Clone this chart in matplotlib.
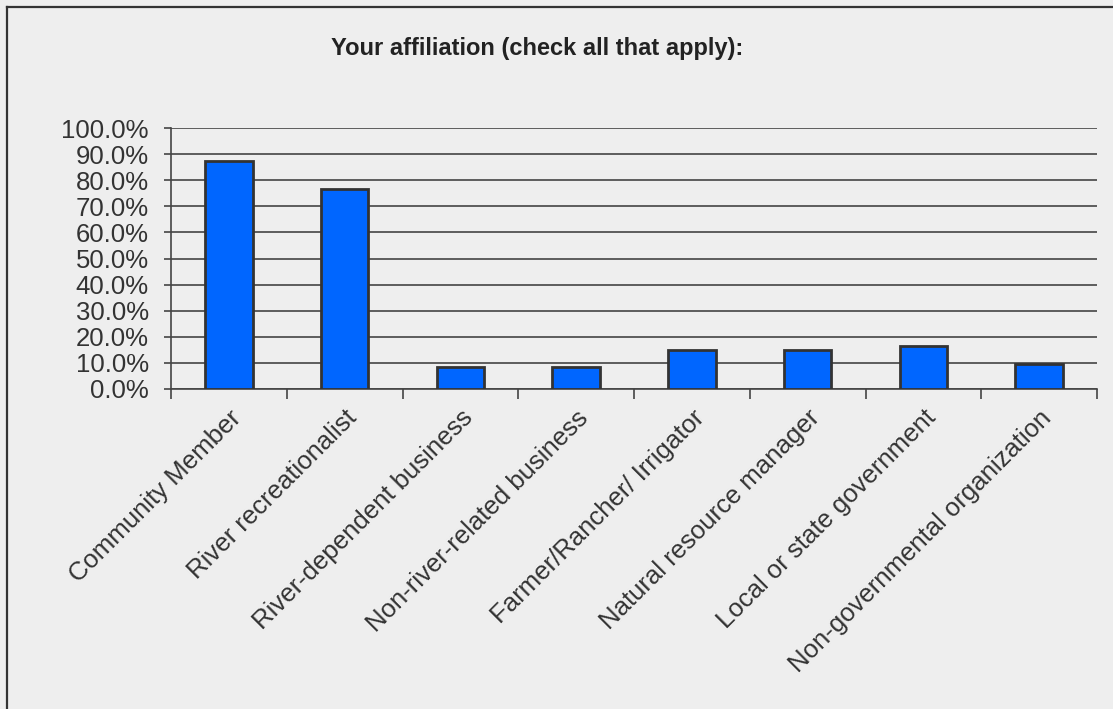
import matplotlib
matplotlib.use("Agg")
import matplotlib.pyplot as plt
from matplotlib.lines import Line2D
from matplotlib.ticker import FuncFormatter, FixedLocator

categories = [
    "Community Member",
    "River recreationalist",
    "River-dependent business",
    "Non-river-related business",
    "Farmer/Rancher/ Irrigator",
    "Natural resource manager",
    "Local or state government",
    "Non-governmental organization",
]
shares = [87.5, 76.8, 8.3, 8.3, 14.9, 14.9, 16.5, 9.6]

plt.rcParams["font.family"] = ["Liberation Sans", "DejaVu Sans"]

W, H = 1113, 709
fig = plt.figure(figsize=(W / 100, H / 100), dpi=100)
fig.patch.set_facecolor("#eeeeee")

# frame on the left and top edges only
fx, fy = 6.5 / W, 1 - 6.5 / H
fig.lines.append(Line2D([fx, 1.0], [fy, fy], transform=fig.transFigure,
                        color="#333333", linewidth=1.6))
fig.lines.append(Line2D([fx, fx], [0.0, fy], transform=fig.transFigure,
                        color="#333333", linewidth=1.6))

ax = fig.add_axes([171 / W, 1 - 389 / H, (1097 - 171) / W, (389 - 128) / H])
ax.set_facecolor("#eeeeee")

x = list(range(len(categories)))
ax.bar(x, shares, width=0.41, color="#0066ff", edgecolor="#333333",
       linewidth=2, zorder=3)

ax.set_xlim(-0.5, len(categories) - 0.5)
ax.set_ylim(0, 100)
ax.set_yticks(range(0, 101, 10))
ax.yaxis.set_major_formatter(FuncFormatter(lambda v, p: f"{v:.1f}%"))
ax.grid(axis="y", color="#444444", linewidth=1.2, zorder=1)

ax.xaxis.set_major_locator(FixedLocator([i - 0.5 for i in range(len(categories) + 1)]))
ax.set_xticklabels([])
ax.tick_params(axis="x", which="major", length=7, color="#444444", width=1.2)
ax.set_xticks(x, minor=True)
ax.set_xticklabels(categories, minor=True, rotation=45, ha="right",
                   rotation_mode="anchor", fontsize=18.5, color="#333333")
ax.tick_params(axis="x", which="minor", length=0, pad=12)
ax.tick_params(axis="y", length=5, color="#444444", width=1.2,
               labelsize=18.5, labelcolor="#333333", pad=11)

for s in ["top", "right"]:
    ax.spines[s].set_visible(False)
for s in ["left", "bottom"]:
    ax.spines[s].set_color("#444444")
    ax.spines[s].set_linewidth(1.2)

fig.text(537 / W, 1 - 49 / H, "Your affiliation (check all that apply):",
         ha="center", va="center", fontsize=17, color="#222222",
         fontweight="bold")

fig.savefig("out.png", dpi=100, facecolor=fig.get_facecolor())
